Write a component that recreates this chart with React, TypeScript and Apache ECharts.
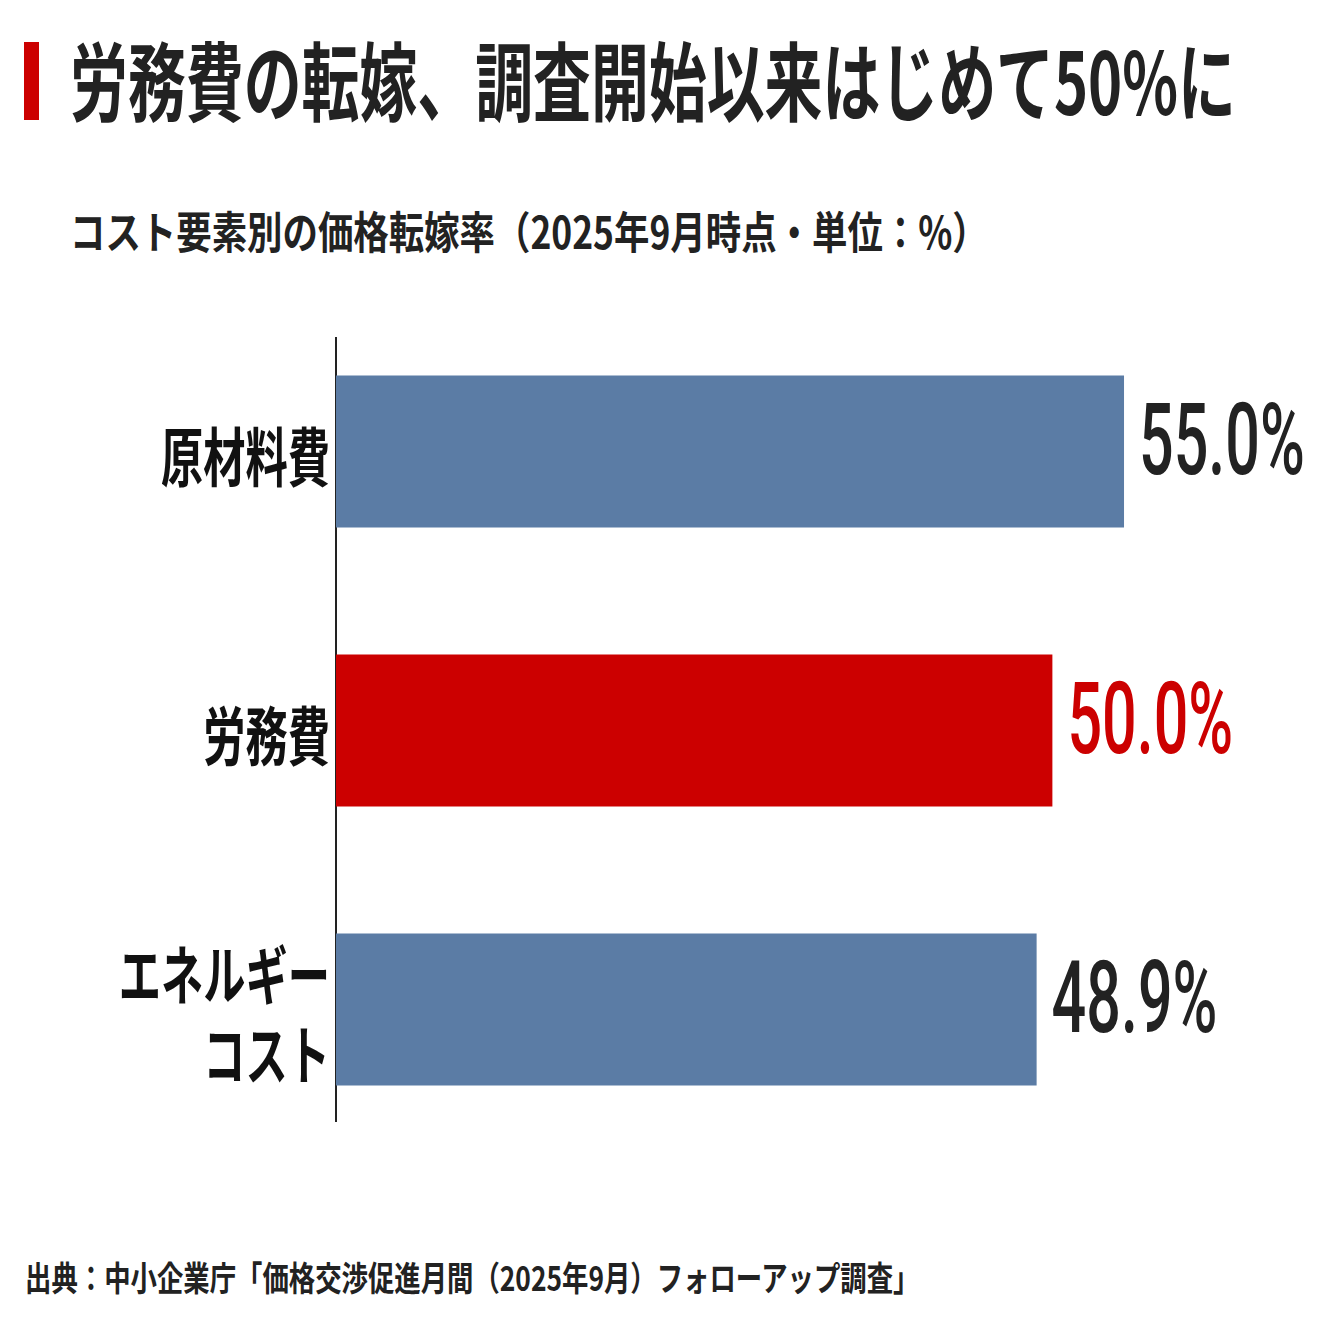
import React, { useEffect, useRef } from 'react';
import * as echarts from 'echarts';

const CATEGORIES = ['原材料費', '労務費', 'エネルギー\nコスト'];
const VALUES = [55.0, 50.0, 48.9];
const HIGHLIGHT = '労務費';

const TITLE = '労務費の転嫁、調査開始以来はじめて50%に';
const SUBTITLE = 'コスト要素別の価格転嫁率（2025年9月時点・単位：%）';
const SOURCE = '出典：中小企業庁「価格交渉促進月間（2025年9月）フォローアップ調査」';

const BLUE = '#5b7ca5';
const RED = '#cc0000';
const INK = '#222222';
const JP = '"Noto Sans CJK JP", "Noto Sans", sans-serif';

const App: React.FC = () => {
  const chartRef = useRef<HTMLDivElement>(null);

  useEffect(() => {
    document.body.style.margin = '0';
    if (!chartRef.current) return;
    const chart = echarts.init(chartRef.current, null, { renderer: 'svg' });

    const option: any = {
      animation: false,
      backgroundColor: '#ffffff',
      grid: { left: 336, top: 312, height: 837, right: 68.7 },
      xAxis: {
        type: 'value',
        min: 0,
        max: 65,
        show: false,
      },
      yAxis: {
        type: 'category',
        data: CATEGORIES,
        inverse: true,
        axisLine: { show: false },
        axisTick: { show: false },
        axisLabel: { show: false },
        splitLine: { show: false },
      },
      graphic: [
        { type: 'rect', shape: { x: 24, y: 42, width: 15, height: 78 }, style: { fill: RED } },
        {
          type: 'text', x: 70, y: 77, scaleX: 0.673,
          style: { text: TITLE, fontSize: 86, fontWeight: 'bold', fontFamily: JP, fill: INK, textVerticalAlign: 'middle' },
        },
        {
          type: 'text', x: 70, y: 230, scaleX: 0.805,
          style: { text: SUBTITLE, fontSize: 44, fontWeight: 'bold', fontFamily: JP, fill: INK, textVerticalAlign: 'middle' },
        },
        {
          type: 'text', x: 25, y: 1276, scaleX: 0.776,
          style: { text: SOURCE, fontSize: 34, fontWeight: 'bold', fontFamily: JP, fill: INK, textVerticalAlign: 'middle' },
        },
        { type: 'line', shape: { x1: 336, y1: 337, x2: 336, y2: 1122 }, style: { stroke: INK, lineWidth: 2 } },
      ],
      series: [
        {
          type: 'bar',
          barWidth: 152,
          data: VALUES.map((v, i) => ({
            value: v,
            itemStyle: { color: CATEGORIES[i] === HIGHLIGHT ? RED : BLUE },
          })),
        },
        {
          // value labels, condensed
          type: 'custom',
          clip: false,
          encode: { x: 0, y: 1 },
          data: VALUES.map((v, i) => [v, i]),
          renderItem: (params: any, api: any) => {
            const i = params.dataIndex;
            const pt = api.coord([api.value(0), api.value(1)]);
            return {
              type: 'text',
              x: pt[0] + 15,
              y: pt[1] - 12,
              scaleX: 0.61,
              style: {
                text: VALUES[i].toFixed(1) + '%',
                fontSize: 100,
                fontWeight: 500,
                fontFamily: 'Roboto, sans-serif',
                fill: CATEGORIES[i] === HIGHLIGHT ? RED : INK,
                textVerticalAlign: 'middle',
              },
            };
          },
        },
        {
          // category labels, condensed
          type: 'custom',
          clip: false,
          encode: { x: 0, y: 1 },
          data: CATEGORIES.map((c, i) => [0, i]),
          renderItem: (params: any, api: any) => {
            const i = params.dataIndex;
            const pt = api.coord([0, api.value(1)]);
            return {
              type: 'text',
              x: pt[0] - 6,
              y: pt[1] + 2,
              scaleX: 0.66,
              style: {
                text: CATEGORIES[i],
                fontSize: 64,
                lineHeight: 80,
                fontWeight: 'bold',
                fontFamily: JP,
                fill: '#111111',
                textAlign: 'right',
                textVerticalAlign: 'middle',
              },
            };
          },
        },
      ],
    };

    chart.setOption(option);
    return () => {
      chart.dispose();
    };
  }, []);

  return <div ref={chartRef} style={{ width: 1336, height: 1336 }} />;
};

export default App;
